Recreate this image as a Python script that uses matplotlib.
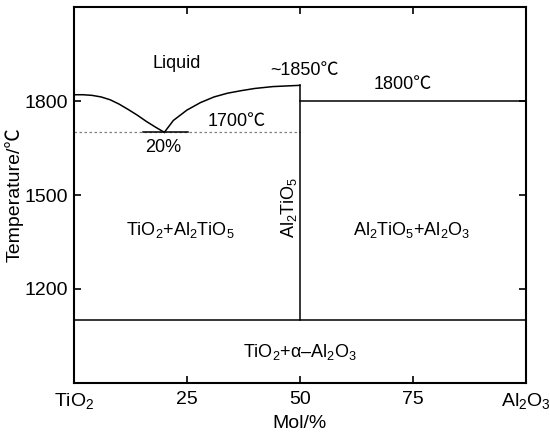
import matplotlib

matplotlib.use("Agg")

import matplotlib.pyplot as plt

# liquidus, TiO2 side (mol% Al2O3, temperature)
liq_left_x = [0, 2, 4, 6, 8, 10, 12, 14, 16, 18, 20]
liq_left_t = [1820, 1820, 1818, 1813, 1804, 1790, 1773, 1755, 1735, 1717, 1700]
# liquidus, towards Al2TiO5
liq_right_x = [20, 22, 25, 28, 31, 34, 37, 40, 44, 47, 50]
liq_right_t = [1700, 1738, 1771, 1795, 1813, 1825, 1833, 1840, 1846, 1848, 1850]

eutectic_t = 1700
eutectic_seg = [15.3, 25.2]
al2tio5_x = 50
al2tio5_top = 1850
right_solidus_t = 1800
eutectoid_t = 1100

x_ticks = [0, 25, 50, 75, 100]
x_labels = ["TiO$_2$", "25", "50", "75", "Al$_2$O$_3$"]
y_ticks = [1200, 1500, 1800]

plt.rcParams["font.family"] = ["Liberation Sans", "Noto Sans CJK SC", "DejaVu Sans"]
plt.rcParams["mathtext.fontset"] = "custom"
plt.rcParams["mathtext.rm"] = "Liberation Sans"
plt.rcParams["mathtext.it"] = "Liberation Sans"
plt.rcParams["mathtext.default"] = "regular"

fig = plt.figure(figsize=(5.5, 4.33), dpi=100)
ax = fig.add_axes([0.1345, 0.1155, 0.8215, 0.8683])

lw = 1.1
ax.plot(liq_left_x, liq_left_t, color="black", lw=lw)
ax.plot(liq_right_x, liq_right_t, color="black", lw=lw)
ax.plot([0, al2tio5_x], [eutectic_t, eutectic_t], color="gray", lw=0.9, ls=(0, (2, 2)))
ax.plot(eutectic_seg, [eutectic_t, eutectic_t], color="black", lw=lw)
ax.plot([al2tio5_x, al2tio5_x], [eutectoid_t, al2tio5_top], color="black", lw=lw)
ax.plot([al2tio5_x, 100], [right_solidus_t, right_solidus_t], color="black", lw=lw)
ax.plot([0, 100], [eutectoid_t, eutectoid_t], color="black", lw=lw)

fs = 13
ax.text(22.7, 1921, "Liquid", ha="center", va="center", fontsize=fs)
ax.text(51, 1898, "~1850℃", ha="center", va="center", fontsize=fs)
ax.text(72.8, 1852, "1800℃", ha="center", va="center", fontsize=fs)
ax.text(36, 1733, "1700℃", ha="center", va="center", fontsize=fs)
ax.text(19.8, 1652, "20%", ha="center", va="center", fontsize=fs)
ax.text(23.5, 1388, "TiO$_2$+Al$_2$TiO$_5$", ha="center", va="center", fontsize=fs)
ax.text(74.8, 1388, "Al$_2$TiO$_5$+Al$_2$O$_3$", ha="center", va="center", fontsize=fs)
ax.text(47.6, 1462, "Al$_2$TiO$_5$", ha="center", va="center", fontsize=fs, rotation=90)
ax.text(50, 1000, "TiO$_2$+α–Al$_2$O$_3$", ha="center", va="center", fontsize=fs)

ax.set_xlim(0, 100)
ax.set_ylim(900, 2100)
ax.set_xticks(x_ticks)
ax.set_xticklabels(x_labels)
ax.set_yticks(y_ticks)
ax.tick_params(direction="in", top=True, right=True, labelsize=14, length=5, width=1.2)
ax.tick_params(axis="y", pad=4)
ax.tick_params(axis="x", pad=6)
for s in ax.spines.values():
    s.set_linewidth(1.5)

ax.set_xlabel("Mol/%", fontsize=14)
ax.set_ylabel("Temperature/℃", fontsize=14)
ax.xaxis.set_label_coords(0.5, -0.085)
ax.yaxis.set_label_coords(-0.112, 0.5)

fig.savefig("out.png", dpi=100)
